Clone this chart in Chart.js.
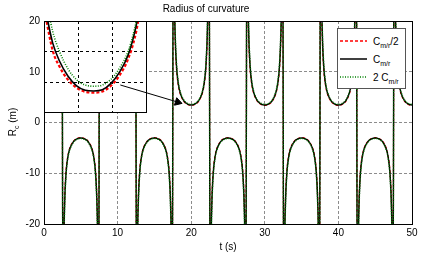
<!DOCTYPE html>
<html>
<head>
<meta charset="utf-8">
<script src="https://cdn.jsdelivr.net/npm/chart.js@4/dist/chart.umd.min.js"></script>
<style>
body { margin: 0; background: #fff; }
#wrap { position: relative; width: 424px; height: 256px; font-family: "Liberation Sans", Arial, sans-serif; color: #000; }
#main { position: absolute; left: 0; top: 0; }
#insetBox { position: absolute; left: 44px; top: 21px; width: 103px; height: 92px; }
#ylab { position: absolute; left: 12px; top: 122px; transform: translate(-50%, -50%) rotate(-90deg); font-size: 10px; white-space: nowrap; }
#legend { position: absolute; left: 337px; top: 28px; width: 67px; height: 59px; background: #fff; border: 1px solid #555; font-size: 10px; }
#legend .row { position: absolute; left: 0; height: 14px; display: flex; align-items: center; }
#legend svg { margin-left: 2px; margin-right: 6px; }
sub { font-size: 7px; vertical-align: -3px; line-height: 0; }
</style>
</head>
<body>
<div id="wrap">
  <canvas id="main" width="424" height="256"></canvas>
  <div id="insetBox"><canvas id="inset" width="103" height="92"></canvas></div>
  <div id="ylab">R<sub>c</sub> (m)</div>
  <div id="legend">
    <div class="row" style="top:5px"><svg width="27" height="4"><line x1="0" y1="2" x2="27" y2="2" stroke="#ff0000" stroke-width="1.3" stroke-dasharray="3,2"/></svg><span>C<sub>m/r</sub>/2</span></div>
    <div class="row" style="top:23px"><svg width="27" height="4"><line x1="0" y1="2" x2="27" y2="2" stroke="#000" stroke-width="1.5"/></svg><span>C<sub>m/r</sub></span></div>
    <div class="row" style="top:41px"><svg width="27" height="4"><line x1="0" y1="2" x2="27" y2="2" stroke="#008000" stroke-width="1.5" stroke-dasharray="1,1.5"/></svg><span>2 C<sub>m/r</sub></span></div>
  </div>
</div>
<script>
// time samples (s)
const tSeconds = [
  0, 0.5, 1, 1.5, 1.75, 2, 2.2, 2.3, 2.4,
  2.6, 2.7, 2.8, 3, 3.25, 3.5, 4, 4.5, 5, 5.5, 6, 6.5, 6.75, 7, 7.2, 7.3, 7.4,
  7.6, 7.7, 7.8, 8, 8.25, 8.5, 9, 9.5, 10, 10.5, 11, 11.5, 11.75, 12, 12.2, 12.3, 12.4,
  12.6, 12.7, 12.8, 13, 13.25, 13.5, 14, 14.5, 15, 15.5, 16, 16.5, 16.75, 17, 17.2, 17.3, 17.4,
  17.6, 17.7, 17.8, 18, 18.25, 18.5, 19, 19.5, 20, 20.5, 21, 21.5, 21.75, 22, 22.2, 22.3, 22.4,
  22.6, 22.7, 22.8, 23, 23.25, 23.5, 24, 24.5, 25, 25.5, 26, 26.5, 26.75, 27, 27.2, 27.3, 27.4,
  27.6, 27.7, 27.8, 28, 28.25, 28.5, 29, 29.5, 30, 30.5, 31, 31.5, 31.75, 32, 32.2, 32.3, 32.4,
  32.6, 32.7, 32.8, 33, 33.25, 33.5, 34, 34.5, 35, 35.5, 36, 36.5, 36.75, 37, 37.2, 37.3, 37.4,
  37.6, 37.7, 37.8, 38, 38.25, 38.5, 39, 39.5, 40, 40.5, 41, 41.5, 41.75, 42, 42.2, 42.3, 42.4,
  42.6, 42.7, 42.8, 43, 43.25, 43.5, 44, 44.5, 45, 45.5, 46, 46.5, 46.75, 47, 47.2, 47.3, 47.4,
  47.6, 47.7, 47.8, 48, 48.25, 48.5, 49, 49.5, 50
];

// Rc (m) for C_m/r / 2  (red dashed)
const rcHalf = [
  3.38, 3.56, 4.17, 5.72, 7.35, 10.7, 17.2, 25.0, 48,
  -44, -22.5, -15.4, -9.5, -6.55, -5.08, -3.7, -3.15, -3.0, -3.15, -3.7, -5.08, -6.55, -9.5, -15.4, -22.5, -44,
  48, 25.0, 17.2, 10.7, 7.35, 5.72, 4.17, 3.56, 3.38, 3.56, 4.17, 5.72, 7.35, 10.7, 17.2, 25.0, 48,
  -44, -22.5, -15.4, -9.5, -6.55, -5.08, -3.7, -3.15, -3.0, -3.15, -3.7, -5.08, -6.55, -9.5, -15.4, -22.5, -44,
  48, 25.0, 17.2, 10.7, 7.35, 5.72, 4.17, 3.56, 3.38, 3.56, 4.17, 5.72, 7.35, 10.7, 17.2, 25.0, 48,
  -44, -22.5, -15.4, -9.5, -6.55, -5.08, -3.7, -3.15, -3.0, -3.15, -3.7, -5.08, -6.55, -9.5, -15.4, -22.5, -44,
  48, 25.0, 17.2, 10.7, 7.35, 5.72, 4.17, 3.56, 3.38, 3.56, 4.17, 5.72, 7.35, 10.7, 17.2, 25.0, 48,
  -44, -22.5, -15.4, -9.5, -6.55, -5.08, -3.7, -3.15, -3.0, -3.15, -3.7, -5.08, -6.55, -9.5, -15.4, -22.5, -44,
  48, 25.0, 17.2, 10.7, 7.35, 5.72, 4.17, 3.56, 3.38, 3.56, 4.17, 5.72, 7.35, 10.7, 17.2, 25.0, 48,
  -44, -22.5, -15.4, -9.5, -6.55, -5.08, -3.7, -3.15, -3.0, -3.15, -3.7, -5.08, -6.55, -9.5, -15.4, -22.5, -44,
  48, 25.0, 17.2, 10.7, 7.35, 5.72, 4.17, 3.56, 3.38
];

// Rc (m) for C_m/r  (black solid)
const rcBase = [
  3.45, 3.63, 4.26, 5.87, 7.6, 11.2, 18.4, 27.5, 55,
  -48.6, -24.3, -16.3, -9.87, -6.72, -5.19, -3.77, -3.21, -3.05, -3.21, -3.77, -5.19, -6.72, -9.87, -16.3, -24.3, -48.6,
  55, 27.5, 18.4, 11.2, 7.6, 5.87, 4.26, 3.63, 3.45, 3.63, 4.26, 5.87, 7.6, 11.2, 18.4, 27.5, 55,
  -48.6, -24.3, -16.3, -9.87, -6.72, -5.19, -3.77, -3.21, -3.05, -3.21, -3.77, -5.19, -6.72, -9.87, -16.3, -24.3, -48.6,
  55, 27.5, 18.4, 11.2, 7.6, 5.87, 4.26, 3.63, 3.45, 3.63, 4.26, 5.87, 7.6, 11.2, 18.4, 27.5, 55,
  -48.6, -24.3, -16.3, -9.87, -6.72, -5.19, -3.77, -3.21, -3.05, -3.21, -3.77, -5.19, -6.72, -9.87, -16.3, -24.3, -48.6,
  55, 27.5, 18.4, 11.2, 7.6, 5.87, 4.26, 3.63, 3.45, 3.63, 4.26, 5.87, 7.6, 11.2, 18.4, 27.5, 55,
  -48.6, -24.3, -16.3, -9.87, -6.72, -5.19, -3.77, -3.21, -3.05, -3.21, -3.77, -5.19, -6.72, -9.87, -16.3, -24.3, -48.6,
  55, 27.5, 18.4, 11.2, 7.6, 5.87, 4.26, 3.63, 3.45, 3.63, 4.26, 5.87, 7.6, 11.2, 18.4, 27.5, 55,
  -48.6, -24.3, -16.3, -9.87, -6.72, -5.19, -3.77, -3.21, -3.05, -3.21, -3.77, -5.19, -6.72, -9.87, -16.3, -24.3, -48.6,
  55, 27.5, 18.4, 11.2, 7.6, 5.87, 4.26, 3.63, 3.45
];

// Rc (m) for 2 C_m/r  (green dotted)
const rcDouble = [
  3.57, 3.76, 4.42, 6.12, 7.95, 11.9, 20.0, 30.5, 62,
  -54, -26.5, -17.5, -10.4, -7.0, -5.4, -3.9, -3.32, -3.15, -3.32, -3.9, -5.4, -7.0, -10.4, -17.5, -26.5, -54,
  62, 30.5, 20.0, 11.9, 7.95, 6.12, 4.42, 3.76, 3.57, 3.76, 4.42, 6.12, 7.95, 11.9, 20.0, 30.5, 62,
  -54, -26.5, -17.5, -10.4, -7.0, -5.4, -3.9, -3.32, -3.15, -3.32, -3.9, -5.4, -7.0, -10.4, -17.5, -26.5, -54,
  62, 30.5, 20.0, 11.9, 7.95, 6.12, 4.42, 3.76, 3.57, 3.76, 4.42, 6.12, 7.95, 11.9, 20.0, 30.5, 62,
  -54, -26.5, -17.5, -10.4, -7.0, -5.4, -3.9, -3.32, -3.15, -3.32, -3.9, -5.4, -7.0, -10.4, -17.5, -26.5, -54,
  62, 30.5, 20.0, 11.9, 7.95, 6.12, 4.42, 3.76, 3.57, 3.76, 4.42, 6.12, 7.95, 11.9, 20.0, 30.5, 62,
  -54, -26.5, -17.5, -10.4, -7.0, -5.4, -3.9, -3.32, -3.15, -3.32, -3.9, -5.4, -7.0, -10.4, -17.5, -26.5, -54,
  62, 30.5, 20.0, 11.9, 7.95, 6.12, 4.42, 3.76, 3.57, 3.76, 4.42, 6.12, 7.95, 11.9, 20.0, 30.5, 62,
  -54, -26.5, -17.5, -10.4, -7.0, -5.4, -3.9, -3.32, -3.15, -3.32, -3.9, -5.4, -7.0, -10.4, -17.5, -26.5, -54,
  62, 30.5, 20.0, 11.9, 7.95, 6.12, 4.42, 3.76, 3.57
];

const xTicks = [0, 10, 20, 30, 40, 50];
const yTicks = [-20, -10, 0, 10, 20];

// arrow from the zoom box to the minimum near t = 20 s
const arrowT = [10.37, 18.17];
const arrowR = [7.39, 4.02];

// zoomed view around the minimum at t = 20 s
const insetT = [18.6, 18.8, 19.0, 19.25, 19.5, 19.75, 20.0, 20.25, 20.5, 20.75, 21.0, 21.2, 21.35];
const insetHalf = [5.3, 4.47, 4.06, 3.73, 3.53, 3.43, 3.41, 3.44, 3.58, 3.84, 4.25, 4.8, 5.45];
const insetBase = [5.45, 4.66, 4.2, 3.82, 3.58, 3.47, 3.45, 3.48, 3.64, 3.92, 4.35, 4.95, 5.6];
const insetDouble = [5.8, 4.95, 4.44, 4.0, 3.73, 3.6, 3.57, 3.6, 3.74, 4.02, 4.44, 5.05, 5.7];
const insetTTicks = [19.55, 20.55];
const insetRTicks = [3.67, 4.43];

Chart.defaults.font.family = '"Liberation Sans", Arial, sans-serif';
Chart.defaults.font.size = 10;
Chart.defaults.color = '#000';

const pts = (xs, ys) => xs.map((x, i) => ({ x: x, y: ys[i] }));

const curve = (vals, color, dash, width, order) => ({
  data: pts(tSeconds, vals),
  borderColor: color,
  borderWidth: width,
  borderDash: dash,
  pointRadius: 0,
  fill: false,
  cubicInterpolationMode: 'monotone',
  order: order
});

const frame = {
  id: 'frame',
  beforeDatasetDraw(chart, args) {
    // blank the zoom box area just before the arrow goes on top
    if (args.index !== 3) return;
    const el = document.getElementById('insetBox');
    const ctx = chart.ctx;
    ctx.save();
    ctx.fillStyle = '#fff';
    ctx.fillRect(el.offsetLeft, el.offsetTop, el.offsetWidth, el.offsetHeight);
    ctx.restore();
  },
  afterDraw(chart) {
    const { ctx, chartArea: a } = chart;
    ctx.save();
    ctx.strokeStyle = '#000';
    ctx.lineWidth = 1;
    ctx.strokeRect(a.left + 0.5, a.top + 0.5, a.right - a.left, a.bottom - a.top);
    ctx.restore();
  }
};

new Chart(document.getElementById('main'), {
  type: 'line',
  data: {
    datasets: [
      curve(rcHalf, '#ff0000', [3, 2], 1.3, 2),
      curve(rcBase, '#000000', [], 1.4, 1),
      curve(rcDouble, '#008000', [1, 1.5], 1.4, 0),
      {
        data: pts(arrowT, arrowR),
        borderColor: '#000',
        backgroundColor: '#000',
        borderWidth: 1,
        pointRadius: [0, 4.5],
        pointStyle: 'triangle',
        rotation: 106.5,
        order: -1
      }
    ]
  },
  options: {
    responsive: false,
    animation: false,
    layout: { padding: { left: 0, right: 12, top: 0, bottom: 0 } },
    plugins: {
      legend: { display: false },
      tooltip: { enabled: false },
      title: {
        display: true,
        text: 'Radius of curvature',
        font: { size: 10, weight: 'normal' },
        padding: { top: 3, bottom: 6 }
      }
    },
    scales: {
      x: {
        type: 'linear',
        min: 0,
        max: 50,
        afterBuildTicks: s => { s.ticks = xTicks.map(v => ({ value: v })); },
        afterFit: s => { s.height = 32; },
        ticks: { padding: 3, maxRotation: 0 },
        grid: { color: '#8c8c8c', drawTicks: false },
        border: { display: false, dash: [3, 2] },
        title: { display: true, text: 't (s)', font: { size: 10 }, padding: { top: 0, bottom: 3 } }
      },
      y: {
        min: -20,
        max: 20,
        afterBuildTicks: s => { s.ticks = yTicks.map(v => ({ value: v })); },
        afterFit: s => { s.width = 44; },
        ticks: { padding: 4 },
        grid: { color: '#8c8c8c', drawTicks: false },
        border: { display: false, dash: [3, 2] }
      }
    }
  },
  plugins: [frame]
});

const insetFrame = {
  id: 'insetFrame',
  afterDraw(chart) {
    const { ctx, chartArea: a } = chart;
    ctx.save();
    ctx.strokeStyle = '#000';
    ctx.lineWidth = 1;
    ctx.strokeRect(a.left + 0.5, a.top + 0.5, a.right - a.left - 1, a.bottom - a.top - 1);
    ctx.restore();
  }
};

const insetCurve = (vals, color, dash, width, order) => ({
  data: pts(insetT, vals),
  borderColor: color,
  borderWidth: width,
  borderDash: dash,
  pointRadius: 0,
  fill: false,
  cubicInterpolationMode: 'monotone',
  order: order
});

new Chart(document.getElementById('inset'), {
  type: 'line',
  data: {
    datasets: [
      insetCurve(insetHalf, '#ff0000', [3, 2], 2.2, 2),
      insetCurve(insetBase, '#000000', [], 1.6, 1),
      insetCurve(insetDouble, '#008000', [1, 1.5], 1.6, 0)
    ]
  },
  options: {
    responsive: false,
    animation: false,
    layout: { padding: 0 },
    plugins: { legend: { display: false }, tooltip: { enabled: false }, title: { display: false } },
    scales: {
      x: {
        type: 'linear',
        min: 18.55,
        max: 21.55,
        afterBuildTicks: s => { s.ticks = insetTTicks.map(v => ({ value: v })); },
        ticks: { display: false },
        grid: { color: '#000', drawTicks: false },
        border: { display: false, dash: [3, 3] }
      },
      y: {
        min: 2.9,
        max: 5.2,
        afterBuildTicks: s => { s.ticks = insetRTicks.map(v => ({ value: v })); },
        ticks: { display: false },
        grid: { color: '#000', drawTicks: false },
        border: { display: false, dash: [3, 3] }
      }
    }
  },
  plugins: [insetFrame]
});
</script>
</body>
</html>
